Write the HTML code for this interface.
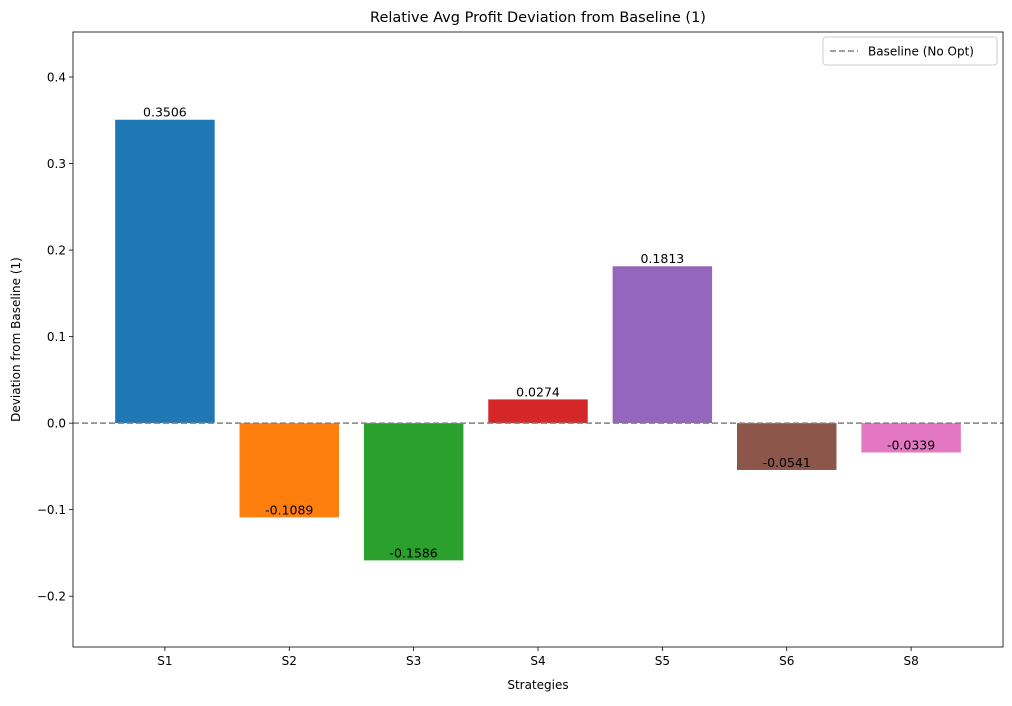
<!DOCTYPE html>
<html><head><meta charset="utf-8"><style>
body{margin:0;background:#fff;font-family:"Liberation Sans","DejaVu Sans",sans-serif;}
svg text{font-family:"DejaVu Sans","Liberation Sans",sans-serif;}
</style></head><body>
<svg id="chart" width="1012" height="701" xmlns="http://www.w3.org/2000/svg"></svg>
<script>
const categories=["S1","S2","S3","S4","S5","S6","S8"];
const values=[0.3506,-0.1089,-0.1586,0.0274,0.1813,-0.0541,-0.0339];
const labels=["0.3506","-0.1089","-0.1586","0.0274","0.1813","-0.0541","-0.0339"];
const yTicks=[-0.2,-0.1,0.0,0.1,0.2,0.3,0.4];
const yTickLabels=["\u22120.2","\u22120.1","0.0","0.1","0.2","0.3","0.4"];
const colors=["#1f77b4","#ff7f0e","#2ca02c","#d62728","#9467bd","#8c564b","#e377c2"];
const L=73,R=1003,T=32,B=647,yMin=-0.2587,yMax=0.452;
const svg=document.getElementById('chart');
const NS="http://www.w3.org/2000/svg";
function y(v){return B-(v-yMin)/(yMax-yMin)*(B-T);}
const step=(R-L)/(categories.length-1+1.478);
function x(i){return L+step*0.739+i*step;}
function el(t,a,txt){const e=document.createElementNS(NS,t);for(const k in a)e.setAttribute(k,a[k]);if(txt!==undefined)e.textContent=txt;svg.appendChild(e);return e;}
let e;
e=el('text',{x:(L+R)/2,y:22,'text-anchor':'middle','font-size':14.5,fill:'#000'},"Relative Avg Profit Deviation from Baseline (1)");


categories.forEach((c,i)=>{
 const v=values[i];const bw=step*0.8;
 const r=el('rect',{x:x(i)-bw/2,y:Math.min(y(v),y(0)),width:bw,height:Math.abs(y(v)-y(0)),fill:colors[i]});
 
 
 const t=el('text',{x:x(i),y:y(v)-3,'text-anchor':'middle','font-size':12.5,fill:'#000'},labels[i]);
 
 
 const tk=el('line',{x1:x(i),x2:x(i),y1:B,y2:B+4,stroke:'#000','stroke-width':0.8});
 
 
 const tl=el('text',{x:x(i),y:B+18,'text-anchor':'middle','font-size':12,fill:'#000'},c);
 
 
});
yTicks.forEach((v,i)=>{
 const tk=el('line',{x1:L-4,x2:L,y1:y(v),y2:y(v),stroke:'#000','stroke-width':0.8});
 
 
 const tl=el('text',{x:L-7,y:y(v)+4.5,'text-anchor':'end','font-size':12,fill:'#000'},yTickLabels[i]);
 
 
});
e=el('line',{x1:L,x2:R,y1:y(0),y2:y(0),stroke:'#808080','stroke-width':1.6,'stroke-dasharray':'6,3'});


e=el('rect',{x:L,y:T,width:R-L,height:B-T,fill:'none',stroke:'#000','stroke-width':0.8});


e=el('text',{x:(L+R)/2,y:689,'text-anchor':'middle','font-size':12,fill:'#000'},"Strategies");


e=el('text',{x:20,y:(T+B)/2,'text-anchor':'middle','font-size':12,fill:'#000',transform:'rotate(-90 20 '+((T+B)/2)+')'},"Deviation from Baseline (1)");


const g=document.createElementNS(NS,'g');svg.appendChild(g);


g.innerHTML='<rect x="823" y="37" width="174" height="28" rx="3" fill="#fff" fill-opacity="0.8" stroke="#ccc"/><line x1="830" x2="858" y1="51" y2="51" stroke="#808080" stroke-width="1.6" stroke-dasharray="6,3"/><text x="868" y="55.5" font-size="12" fill="#000">Baseline (No Opt)</text>';
</script>
</body></html>
